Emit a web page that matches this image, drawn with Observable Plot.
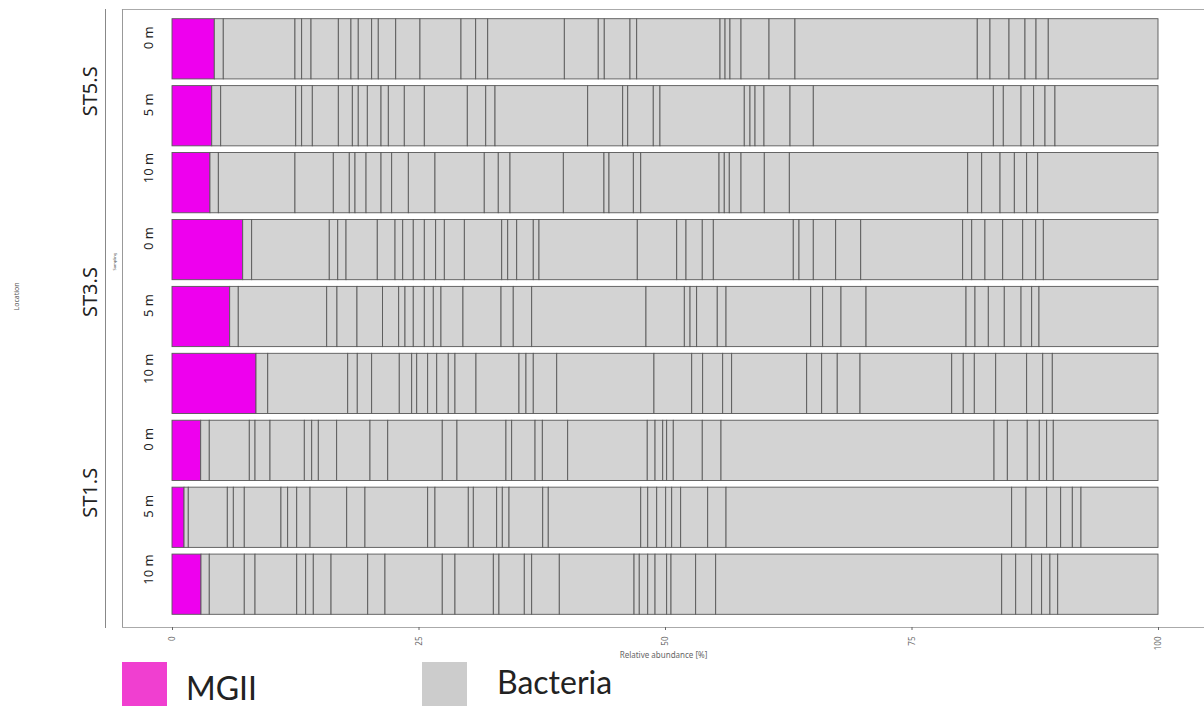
<!DOCTYPE html>
<html><head><meta charset="utf-8">
<script src="https://cdn.jsdelivr.net/npm/d3@7"></script>
<script src="https://cdn.jsdelivr.net/npm/@observablehq/plot@0.6"></script>
<style>
body{margin:0;background:#fff;}
#chart svg{display:block;}
#legend{position:relative;height:46px;font-family:Lato,"Open Sans",sans-serif;}
.sw{position:absolute;top:2px;width:45px;height:44px;}
.lb{position:absolute;font-size:32px;line-height:28px;color:#222;white-space:nowrap;}
</style></head><body>
<div id="chart"></div>
<div id="legend">
  <div class="sw" style="left:122px;background:#f03fd0"></div>
  <div class="lb" style="left:186px;top:14px">MGII</div>
  <div class="sw" style="left:422px;background:#cccccc"></div>
  <div class="lb" style="left:497px;top:8px">Bacteria</div>
</div>
<script>
// categories
const locations = ["ST5.S", "ST3.S", "ST1.S"];
const depths = ["0 m", "5 m", "10 m"];
const groups = ["MGII", "Bacteria"];
const xTicks = [0, 25, 50, 75, 100];

// MGII relative abundance (%) per sample, order: ST5.S 0/5/10 m, ST3.S 0/5/10 m, ST1.S 0/5/10 m
const mgii = [4.29, 4.03, 3.85, 7.17, 5.85, 8.52, 2.91, 1.22, 2.94];

// cumulative edges (%) of the bacterial taxa segments
const st5_0m = [5.20, 12.47, 13.15, 14.10, 16.87, 18.15, 18.89, 20.25, 20.92, 22.69, 25.15, 29.31, 30.80, 32.02, 39.79, 43.23, 43.84, 46.45, 47.13, 55.58, 56.09, 56.59, 57.71, 60.55, 63.18, 81.67, 82.96, 84.89, 86.51, 87.63, 88.87];
const st5_5m = [4.94, 12.55, 13.15, 14.23, 16.87, 18.29, 18.89, 19.81, 21.20, 21.94, 23.56, 25.59, 29.95, 31.82, 32.76, 42.16, 45.71, 46.22, 48.81, 49.49, 58.04, 58.62, 59.13, 60.04, 62.68, 65.04, 83.30, 84.31, 86.11, 87.39, 88.54, 89.55];
const st5_10m = [4.70, 12.47, 16.36, 17.98, 18.56, 19.68, 21.20, 22.28, 23.97, 26.67, 31.67, 33.09, 34.28, 39.69, 43.81, 44.32, 46.79, 47.54, 55.48, 56.01, 56.52, 57.71, 60.07, 62.61, 80.70, 82.12, 83.98, 85.43, 86.68, 87.80];
const st3_0m = [8.08, 15.95, 16.81, 17.65, 20.82, 22.62, 23.40, 24.47, 25.59, 26.74, 27.62, 29.65, 33.44, 34.05, 34.96, 36.64, 37.22, 47.19, 51.19, 52.13, 53.78, 54.90, 63.01, 63.59, 65.04, 67.31, 69.85, 80.19, 81.11, 82.45, 84.25, 86.28, 87.60, 88.37];
const st3_5m = [6.72, 15.69, 16.73, 18.76, 21.35, 22.99, 23.63, 24.47, 25.59, 26.50, 27.28, 29.51, 33.37, 34.61, 36.48, 48.07, 51.96, 52.54, 53.21, 55.30, 56.19, 64.78, 65.99, 67.85, 70.39, 80.53, 81.44, 82.79, 84.41, 86.11, 87.19, 87.93];
const st3_10m = [9.71, 17.82, 18.79, 20.25, 23.05, 24.31, 24.82, 25.93, 26.85, 28.02, 28.70, 30.83, 35.19, 35.90, 36.64, 39.02, 48.88, 52.71, 53.82, 55.85, 56.76, 64.37, 65.89, 67.47, 69.78, 79.08, 80.25, 81.37, 83.54, 86.68, 88.31, 89.28];
const st1_0m = [3.78, 7.84, 8.42, 9.94, 13.42, 14.17, 14.84, 16.70, 20.08, 21.88, 27.41, 28.90, 33.87, 34.45, 36.82, 37.56, 40.13, 48.20, 48.99, 49.77, 50.17, 50.84, 53.78, 55.68, 83.37, 84.72, 86.74, 87.96, 88.71, 89.38];
const st1_5m = [1.65, 5.61, 6.22, 7.33, 11.05, 11.73, 12.65, 14.00, 17.72, 19.57, 25.93, 26.67, 30.05, 30.56, 32.93, 33.50, 34.18, 37.60, 38.16, 47.54, 48.25, 49.16, 50.07, 50.68, 51.59, 54.33, 56.19, 85.16, 86.61, 88.71, 90.13, 91.31, 92.19];
const st1_10m = [3.78, 7.33, 8.42, 12.65, 13.56, 14.33, 16.13, 19.85, 21.60, 27.41, 28.70, 32.59, 33.16, 35.73, 36.48, 39.28, 46.86, 47.39, 48.25, 48.99, 50.17, 50.61, 53.11, 55.14, 84.15, 85.57, 87.19, 88.20, 89.04, 89.83];
const bacteriaEdges = [st5_0m, st5_5m, st5_10m, st3_0m, st3_5m, st3_10m, st1_0m, st1_5m, st1_10m];

// build table
const samples = [];
locations.forEach(loc => depths.forEach(dep => samples.push({key: loc + " " + dep, loc, depth: dep})));
const rows = [];
samples.forEach((s, i) => {
  rows.push({sample: s.key, group: "MGII", value: mgii[i]});
  let prev = mgii[i];
  for (const e of [...bacteriaEdges[i], 100]) {
    rows.push({sample: s.key, group: "Bacteria", value: +(e - prev).toFixed(2)});
    prev = e;
  }
});
const locRows = locations.map(loc => ({loc, mid: loc + " " + depths[1]}));

const chart = Plot.plot({
  width: 1204,
  height: 660,
  marginLeft: 122,
  marginRight: 0,
  marginTop: 9,
  marginBottom: 33,
  style: {fontFamily: "'Noto Sans', 'Open Sans', sans-serif", background: "#fff"},
  x: {domain: [0, 100], range: [172, 1158]},
  y: {domain: samples.map(s => s.key), range: [12, 621], padding: 0.1, round: false, axis: null},
  color: {domain: groups, range: ["#ee00ee", "#d3d3d3"]},
  marks: [
    Plot.frame({anchor: "top", stroke: "#aaa", strokeWidth: 1.2}),
    Plot.frame({anchor: "left", stroke: "#999"}),
    Plot.frame({anchor: "bottom", stroke: "#aaa"}),
    Plot.frame({anchor: "left", dx: -17, stroke: "#888"}),
    Plot.barX(rows, {x: "value", y: "sample", fill: "group", stroke: "#585858", strokeWidth: 0.9}),
    Plot.axisX({ticks: xTicks, tickRotate: -90, tickSize: 3, fontSize: 8, fill: "#666", stroke: "#666",
      label: "Relative abundance [%]", labelAnchor: "center", labelArrow: "none", labelOffset: 30}),
    Plot.text(samples, {y: "key", text: "depth", frameAnchor: "left", dx: 26, rotate: -90, fontSize: 13, fill: "#222"}),
    Plot.text(locRows, {y: "mid", text: "loc", frameAnchor: "left", dx: -32, rotate: -90, fontSize: 20, fill: "#222"}),
    Plot.text(["Location"], {text: d => d, frameAnchor: "left", dx: -106, dy: -8, rotate: -90, fontSize: 7, fill: "#555"}),
    Plot.text(["Sampling"], {text: d => d, frameAnchor: "left", dx: -8, dy: -48, rotate: -90, fontSize: 4, fill: "#555"})
  ]
});
document.getElementById("chart").appendChild(chart);
</script>
</body></html>
